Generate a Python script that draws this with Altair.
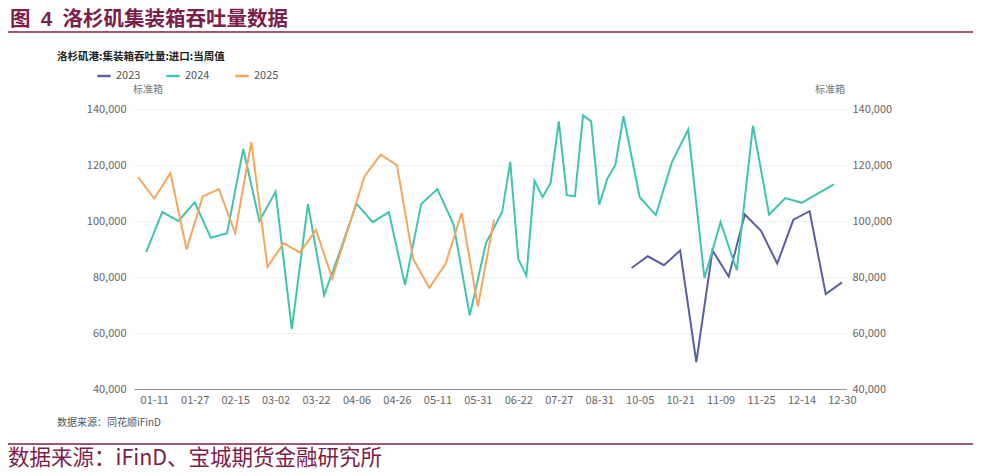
import altair as alt
import pandas as pd

# ---- data ----
years = ["2023", "2024", "2025"]
colors = ["#5A5EA4", "#3FC4B0", "#F5A65C"]

dates_2023 = ["09-30", "10-07", "10-14", "10-21", "10-28", "11-04", "11-11",
              "11-18", "11-25", "12-02", "12-09", "12-16", "12-23", "12-30"]
values_2023 = [83200, 87400, 84200, 89500, 49600, 89500, 80200,
               102300, 96500, 84800, 100500, 103500, 73900, 78100]

dates_2024 = ["01-06", "01-13", "01-20", "01-27", "02-03", "02-10", "02-17", "02-24",
              "03-02", "03-09", "03-16", "03-23", "03-30", "04-06", "04-13", "04-20",
              "04-27", "05-04", "05-11", "05-18", "05-25", "06-01", "06-08", "06-15",
              "06-22", "06-29", "07-06", "07-13", "07-20", "07-27", "08-03", "08-10",
              "08-17", "08-24", "08-31", "09-07", "09-14", "09-21", "10-05", "10-12",
              "10-19", "10-26", "11-02", "11-09", "11-16", "11-23", "11-30", "12-07",
              "12-14", "12-21", "12-28"]
values_2024 = [88900, 103200, 100000, 106700, 94000, 95600, 125700, 100000,
               110500, 61400, 106100, 73500, 89500, 106200, 99600, 103200,
               77100, 106100, 111400, 98700, 66300, 92100, 103200, 121100,
               86400, 80400, 114400, 108500, 113700, 135600, 109200, 108800,
               137700, 135600, 105800, 115100, 120100, 137400, 108500, 102100,
               121100, 132700, 79600, 99600, 82400, 134000, 102300, 108200,
               106500, 109800, 113100]

dates_2025 = ["01-04", "01-11", "01-18", "01-25", "02-01", "02-08", "02-15", "02-22",
              "03-01", "03-08", "03-15", "03-22", "03-29", "04-05", "04-12", "04-19",
              "04-26", "05-03", "05-10", "05-17", "05-24", "05-31", "06-07"]
values_2025 = [115700, 108000, 117100, 89800, 108800, 111400, 95700, 128200,
               83600, 92100, 88700, 96800, 79500, 97500, 116000, 123700,
               119900, 86500, 76100, 84600, 102900, 69500, 100500]

tick_labels = ["01-11", "01-27", "02-15", "03-02", "03-22", "04-06", "04-26", "05-11",
               "05-31", "06-22", "07-27", "08-31", "10-05", "10-21", "11-09", "11-25",
               "12-14", "12-30"]
y_ticks = [40000, 60000, 80000, 100000, 120000, 140000]

# ---- build table ----
rows = []
for yr, ds, vs in [("2023", dates_2023, values_2023),
                   ("2024", dates_2024, values_2024),
                   ("2025", dates_2025, values_2025)]:
    for d, v in zip(ds, vs):
        rows.append({"date": d, "value": v, "year": yr})
df = pd.DataFrame(rows)
domain = sorted(set(df["date"]))

W, H = 712, 280
FONT = "Noto Sans CJK SC"
HEAD_FONT = "Liberation Sans, Noto Sans CJK SC"
MAROON = "#7C2049"

x_enc = alt.X("date:N",
              scale=alt.Scale(type="point", domain=domain, padding=0.5),
              sort=domain,
              axis=alt.Axis(values=tick_labels, title=None, labelAngle=0, ticks=False,
                            domainColor="#8E93A8", domainWidth=1.2, labelColor="#666666",
                            labelFontSize=11, labelPadding=5, grid=False, labelFont=FONT))

y_scale = alt.Scale(domain=[40000, 140000], nice=False, zero=False)

lines = alt.Chart(df).mark_line(strokeWidth=2).encode(
    x=x_enc,
    y=alt.Y("value:Q", scale=y_scale,
            axis=alt.Axis(values=y_ticks, format=",.0f", title=None, grid=True,
                          gridColor="#ECEEF4", domain=False, ticks=False,
                          labelColor="#666666", labelFontSize=11, labelPadding=8,
                          labelFont=FONT)),
    color=alt.Color("year:N",
                    scale=alt.Scale(domain=years, range=colors),
                    legend=alt.Legend(orient="none", legendX=-38, legendY=-41,
                                      direction="horizontal", symbolType="stroke",
                                      symbolStrokeWidth=2.5, symbolSize=180,
                                      title=None, labelFontSize=11, labelColor="#555555",
                                      labelFont=FONT, columnPadding=20, labelOffset=4,
                                      padding=0)),
)

right_axis = alt.Chart(df).mark_point(opacity=0, size=1).encode(
    x=x_enc,
    y=alt.Y("value:Q", scale=y_scale,
            axis=alt.Axis(values=y_ticks, format=",.0f", title=None, grid=False,
                          orient="right", domain=False, ticks=False,
                          labelColor="#666666", labelFontSize=11, labelPadding=6,
                          labelFont=FONT)),
)

texts = pd.DataFrame({
    "t": ["图\u20024\u2002洛杉矶集装箱吞吐量数据",
          "洛杉矶港:集装箱吞吐量:进口:当周值",
          "标准箱", "标准箱",
          "数据来源：同花顺iFinD",
          "数据来源：iFinD、宝城期货金融研究所"],
    "k": ["head", "sub", "ul", "ur", "src", "foot"],
})


def txt(key, x, y, size, color, weight="normal", align="left", font=FONT):
    return alt.Chart(texts[texts.k == key]).mark_text(
        align=align, baseline="middle", fontSize=size, font=font,
        fontWeight=weight, color=color,
    ).encode(x=alt.value(x), y=alt.value(y), text="t:N")


head = txt("head", -124, -89, 20.5, MAROON, "bold", font=HEAD_FONT)
sub = txt("sub", -77, -52, 10.5, "#222222", "bold")
ul = txt("ul", 14, -19, 10, "#777777", align="center")
ur = txt("ur", 711, -19, 10, "#777777", align="right")
src = txt("src", -77, 314, 10, "#555555")
foot = txt("foot", -126, 349.5, 21.5, MAROON)

rule_df = pd.DataFrame({"a": [0]})
top_rule = alt.Chart(rule_df).mark_rule(color=MAROON, strokeWidth=1.3).encode(
    x=alt.value(-126), x2=alt.value(839), y=alt.value(-77))
bot_rule = alt.Chart(rule_df).mark_rule(color=MAROON, strokeWidth=1.3).encode(
    x=alt.value(-126), x2=alt.value(839), y=alt.value(335))

chart = alt.layer(
    lines, right_axis, head, sub, ul, ur, src, foot, top_rule, bot_rule
).resolve_scale(y="independent").properties(
    width=W, height=H,
    autosize=alt.AutoSizeParams(type="none"),
    padding={"left": 126, "right": 127, "top": 101, "bottom": 81},
    background="white",
).configure_view(stroke="transparent")

chart.save("out.html", embed_options={"renderer": "svg", "actions": False})
